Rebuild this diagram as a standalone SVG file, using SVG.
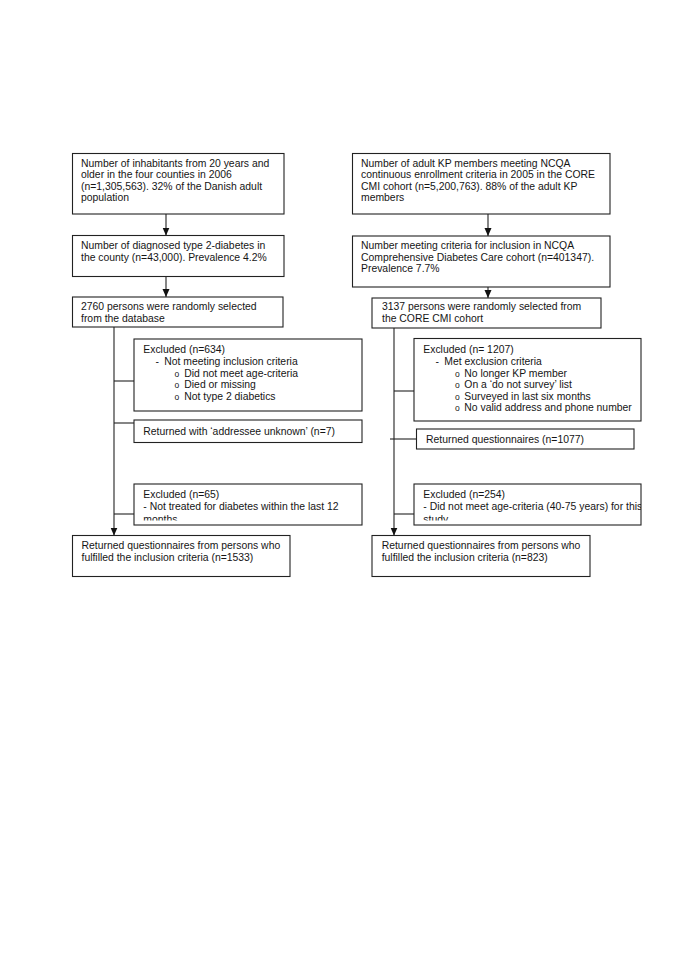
<svg xmlns="http://www.w3.org/2000/svg" width="685" height="969" viewBox="0 0 685 969">
<style>
.box{fill:#fff;stroke:#222;stroke-width:1.1}
.t{font-family:"Liberation Sans",Arial,sans-serif;font-size:10.4px;fill:#151515}
.b{font-family:"Liberation Sans",Arial,sans-serif;font-size:8.5px;fill:#151515}
.c{stroke:#222;stroke-width:1.1;fill:none}
</style>
<defs>
<marker id="ah" viewBox="0 0 8 8" refX="8" refY="4" markerWidth="8" markerHeight="8" markerUnits="userSpaceOnUse" orient="auto">
<path d="M0,0.5 L8,4 L0,7.5 z" fill="#111"/>
</marker>
<clipPath id="clipL"><rect x="134" y="484" width="228" height="36.5"/></clipPath>
<clipPath id="clipR"><rect x="414" y="484" width="227" height="36.5"/></clipPath>
</defs>
<rect width="685" height="969" fill="#fff"/>
<g id="connectors">
<line class="c" x1="166" y1="214" x2="166" y2="235.5" marker-end="url(#ah)"/>
<line class="c" x1="166" y1="276.5" x2="166" y2="297" marker-end="url(#ah)"/>
<line class="c" x1="114" y1="327" x2="114" y2="535.5" marker-end="url(#ah)"/>
<line class="c" x1="114" y1="381" x2="134" y2="381"/>
<line class="c" x1="114" y1="423" x2="134" y2="423"/>
<line class="c" x1="114" y1="514" x2="134" y2="514"/>
<line class="c" x1="488" y1="214" x2="488" y2="236" marker-end="url(#ah)"/>
<line class="c" x1="488" y1="287" x2="488" y2="298" marker-end="url(#ah)"/>
<line class="c" x1="394" y1="328" x2="394" y2="535.5" marker-end="url(#ah)"/>
<line class="c" x1="394" y1="391" x2="414" y2="391"/>
<line class="c" x1="390" y1="439" x2="416.5" y2="439"/>
<line class="c" x1="394" y1="514" x2="414" y2="514"/>
</g>
<g id="L1"><rect class="box" x="72.5" y="153.5" width="211.5" height="60.5"/>
<text class="t" x="81" y="166.5">Number of inhabitants from 20 years and</text>
<text class="t" x="81" y="178">older in the four counties in 2006</text>
<text class="t" x="81" y="189.5">(n=1,305,563). 32% of the Danish adult</text>
<text class="t" x="81" y="201">population</text></g>
<g id="L2"><rect class="box" x="72.5" y="235.5" width="211.5" height="41"/>
<text class="t" x="81" y="249">Number of diagnosed type 2-diabetes in</text>
<text class="t" x="81" y="260.5">the county (n=43,000). Prevalence 4.2%</text></g>
<g id="L3"><rect class="box" x="72.5" y="297" width="210.5" height="30"/>
<text class="t" x="81" y="310">2760 persons were randomly selected</text>
<text class="t" x="81" y="321.5">from the database</text></g>
<g id="L4"><rect class="box" x="134" y="339" width="228" height="72"/>
<text class="t" x="143.3" y="353">Excluded (n=634)</text>
<text class="t" x="155.5" y="365">-</text><text class="t" x="164.3" y="365">Not meeting inclusion criteria</text>
<text class="b" x="174.5" y="376.7">o</text><text class="t" x="184.3" y="376.7">Did not meet age-criteria</text>
<text class="b" x="174.5" y="388.2">o</text><text class="t" x="184.3" y="388.2">Died or missing</text>
<text class="b" x="174.5" y="399.7">o</text><text class="t" x="184.3" y="399.7">Not type 2 diabetics</text></g>
<g id="L5"><rect class="box" x="134" y="420" width="228" height="22.5"/>
<text class="t" x="143.3" y="435">Returned with ‘addressee unknown’ (n=7)</text></g>
<g id="L6"><rect class="box" x="134" y="484" width="228" height="41"/>
<g clip-path="url(#clipL)">
<text class="t" x="143.3" y="498">Excluded (n=65)</text>
<text class="t" x="143.3" y="509.7">- Not treated for diabetes within the last 12</text>
<text class="t" x="143.3" y="522.5">months</text></g></g>
<g id="L7"><rect class="box" x="72.5" y="535.5" width="217.5" height="41"/>
<text class="t" x="81.5" y="549.3">Returned questionnaires from persons who</text>
<text class="t" x="81.5" y="561">fulfilled the inclusion criteria (n=1533)</text></g>
<g id="R1"><rect class="box" x="352.5" y="153.5" width="257.5" height="60.5"/>
<text class="t" x="361" y="166.5">Number of adult KP members meeting NCQA</text>
<text class="t" x="361" y="178">continuous enrollment criteria in 2005 in the CORE</text>
<text class="t" x="361" y="189.5">CMI cohort (n=5,200,763). 88% of the adult KP</text>
<text class="t" x="361" y="201">members</text></g>
<g id="R2"><rect class="box" x="352.5" y="236" width="257.5" height="51"/>
<text class="t" x="361" y="249">Number meeting criteria for inclusion in NCQA</text>
<text class="t" x="361" y="260.5">Comprehensive Diabetes Care cohort (n=401347).</text>
<text class="t" x="361" y="272">Prevalence 7.7%</text></g>
<g id="R3"><rect class="box" x="372" y="298" width="229" height="30"/>
<text class="t" x="382" y="310">3137 persons were randomly selected from</text>
<text class="t" x="382" y="321.5">the CORE CMI cohort</text></g>
<g id="R4"><rect class="box" x="414" y="338.5" width="227" height="82.5"/>
<text class="t" x="423.3" y="353">Excluded (n= 1207)</text>
<text class="t" x="435.5" y="365">-</text><text class="t" x="444.3" y="365">Met exclusion criteria</text>
<text class="b" x="455" y="376.7">o</text><text class="t" x="464.3" y="376.7">No longer KP member</text>
<text class="b" x="455" y="388.2">o</text><text class="t" x="464.3" y="388.2">On a ‘do not survey’ list</text>
<text class="b" x="455" y="399.7">o</text><text class="t" x="464.3" y="399.7">Surveyed in last six months</text>
<text class="b" x="455" y="411.2">o</text><text class="t" x="464.3" y="411.2">No valid address and phone number</text></g>
<g id="R5"><rect class="box" x="416.5" y="429" width="217.5" height="20"/>
<text class="t" x="426" y="442.5">Returned questionnaires (n=1077)</text></g>
<g id="R6"><rect class="box" x="414" y="484" width="227" height="41"/>
<g clip-path="url(#clipR)">
<text class="t" x="423.3" y="498">Excluded (n=254)</text>
<text class="t" x="423.3" y="509.7">- Did not meet age-criteria (40-75 years) for this</text>
<text class="t" x="423.3" y="522.5">study</text></g></g>
<g id="R7"><rect class="box" x="372" y="535.5" width="218" height="41"/>
<text class="t" x="381.7" y="549.3">Returned questionnaires from persons who</text>
<text class="t" x="381.7" y="561">fulfilled the inclusion criteria (n=823)</text></g>
</svg>
